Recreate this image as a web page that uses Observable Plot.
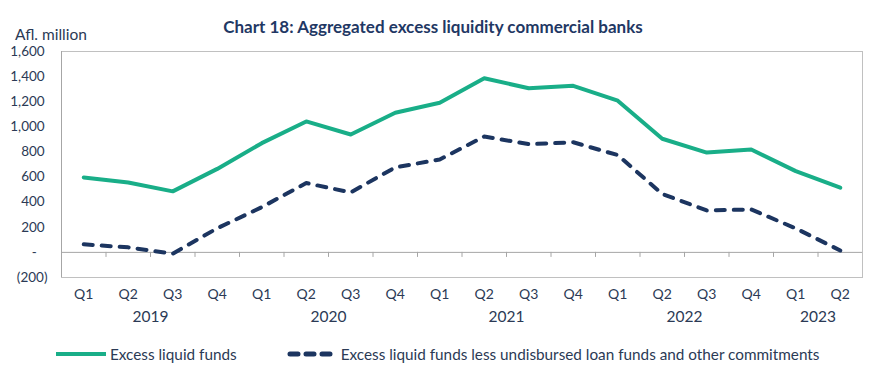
<!DOCTYPE html>
<html>
<head>
<meta charset="utf-8">
<script src="https://cdn.jsdelivr.net/npm/d3@7"></script>
<script src="https://cdn.jsdelivr.net/npm/@observablehq/plot@0.6"></script>
<style>
  body { margin: 0; background: #fff; font-family: Lato, "Open Sans", sans-serif; }
  #wrap { width: 878px; height: 378px; position: relative; overflow: hidden; }
  #header { position: relative; width: 878px; height: 36px; }
  #title { position: absolute; left: 0; width: 866px; top: 16px; text-align: center;
           font-weight: bold; font-size: 17px; color: #1f3864; line-height: 22px; z-index: 1; }
  #unit { position: absolute; left: 15px; top: 25px; font-size: 15.5px; color: #2b3a55; line-height: 18px; z-index: 1; }
  #legend { display: flex; align-items: center; height: 24px; margin-top: 7px; font-size: 15.3px; color: #2b3a55; }
  .item { display: flex; align-items: center; }
</style>
</head>
<body>
<div id="wrap">
  <div id="header">
    <div id="title">Chart 18: Aggregated excess liquidity commercial banks</div>
    <div id="unit">Afl. million</div>
  </div>
  <div id="chart"></div>
  <div id="legend">
    <div class="item" style="margin-left:56px">
      <svg width="50" height="8" style="margin-right:4px"><line x1="0" y1="4" x2="50" y2="4" stroke="#19ae88" stroke-width="4"/></svg>
      <span>Excess liquid funds</span>
    </div>
    <div class="item" style="margin-left:50px">
      <svg width="46" height="8" style="margin-right:8px"><line x1="3" y1="4" x2="43" y2="4" stroke="#1c3560" stroke-width="5" stroke-linecap="round" stroke-dasharray="8,8"/></svg>
      <span>Excess liquid funds less undisbursed loan funds and other commitments</span>
    </div>
  </div>
</div>
<script>
const quarters = ["Q1","Q2","Q3","Q4","Q1","Q2","Q3","Q4","Q1","Q2","Q3","Q4","Q1","Q2","Q3","Q4","Q1","Q2"];
const quarterYears = [2019,2019,2019,2019,2020,2020,2020,2020,2021,2021,2021,2021,2022,2022,2022,2022,2023,2023];
const years = [2019, 2020, 2021, 2022, 2023];
const excessLiquid = [597,557,486,665,870,1043,939,1112,1192,1387,1307,1327,1208,905,795,820,647,515];
const excessLessCommit = [64,40,-10,192,360,552,478,677,740,923,862,877,775,465,334,342,191,15];
const yTicks = [-200,0,200,400,600,800,1000,1200,1400,1600];

const rows = quarters.map((q, i) => ({i, q, year: quarterYears[i], a: excessLiquid[i], b: excessLessCommit[i]}));
const yearRows = years.map(y => {
  const idx = rows.filter(r => r.year === y).map(r => r.i);
  return {year: y, x: (d3.min(idx) + d3.max(idx) + 1) / 2};
});
const boundaries = d3.range(1, quarters.length);

const fmt = v => v === 0 ? "-\u2007\u2008" : v < 0 ? `(${d3.format(",")(-v)})` : d3.format(",")(v) + "\u2008";
const textColor = "#2b3a55";

const chart = Plot.plot({
  width: 878,
  height: 299,
  marginTop: 15,
  marginBottom: 58,
  marginLeft: 61,
  marginRight: 16,
  style: {fontFamily: "Lato, 'Open Sans', sans-serif", color: textColor, background: "transparent", display: "block"},
  x: {type: "linear", domain: [0, quarters.length], axis: null},
  y: {domain: [-200, 1600], axis: null},
  marks: [
    Plot.frame({stroke: "#c0c0c0"}),
    Plot.ruleX([0], {stroke: "#a6a6a6"}),
    Plot.ruleY([0], {stroke: "#a6a6a6"}),
    Plot.ruleX(boundaries, {x: d => d, y1: 0, y2: -40, stroke: "#a6a6a6"}),
    Plot.axisY({ticks: yTicks, tickSize: 0, tickPadding: 14, tickFormat: fmt, fontSize: 13.5, fill: textColor}),
    Plot.text(rows, {x: d => d.i + 0.5, text: "q", frameAnchor: "bottom", dy: 21, fontSize: 14, fill: textColor}),
    Plot.text(yearRows, {x: "x", text: d => String(d.year), frameAnchor: "bottom", dy: 44, fontSize: 15.5, fill: textColor}),
    Plot.line(rows, {x: d => d.i + 0.5, y: "a", stroke: "#19ae88", strokeWidth: 4, strokeLinejoin: "round", strokeLinecap: "round"}),
    Plot.line(rows, {x: d => d.i + 0.5, y: "b", stroke: "#1c3560", strokeWidth: 4, strokeDasharray: "9,9", strokeLinecap: "round", strokeLinejoin: "round"})
  ]
});
document.getElementById("chart").appendChild(chart);
</script>
</body>
</html>
